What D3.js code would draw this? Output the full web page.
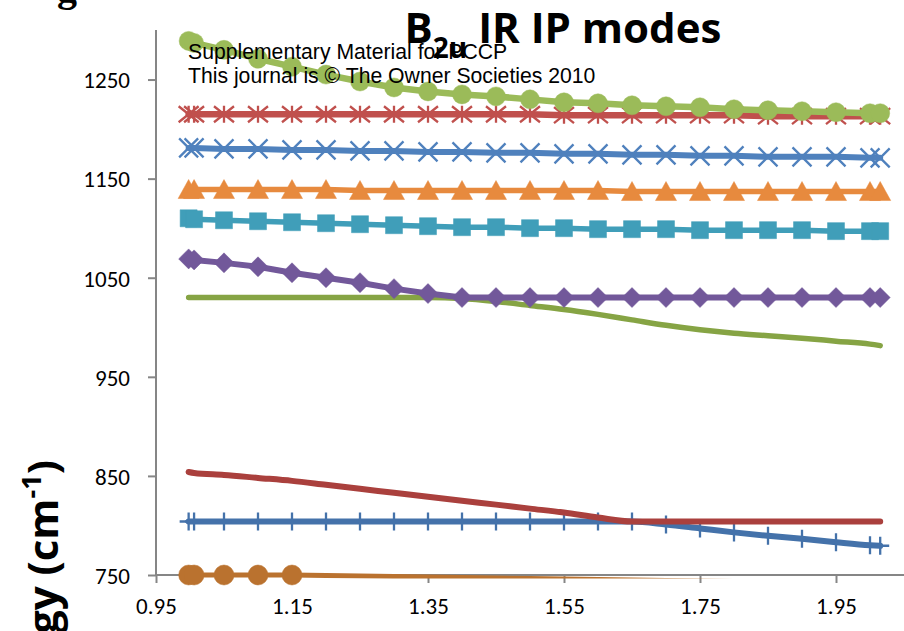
<!DOCTYPE html>
<html><head><meta charset="utf-8">
<script src="https://cdn.jsdelivr.net/npm/d3@7/dist/d3.min.js"></script>
<style>body{margin:0;background:#fff}svg{display:block}</style>
</head><body><svg id="c" width="904" height="631"></svg>
<script>
// ---- data ----
const xValues = [0.998, 1.006, 1.05, 1.10, 1.15, 1.20, 1.25, 1.30, 1.35, 1.40, 1.45, 1.50, 1.55, 1.60, 1.65, 1.70, 1.75, 1.80, 1.85, 1.90, 1.95, 2.00, 2.015];
const greenCircleValues = [1289, 1287, 1280, 1271, 1263, 1255, 1248, 1242, 1238, 1235, 1233, 1230, 1227, 1226, 1224, 1223, 1222, 1220, 1219, 1218, 1217, 1216, 1216];
const redStarValues = [1215, 1215, 1215, 1215, 1215, 1215, 1215, 1215, 1215, 1215, 1215, 1215, 1214, 1214, 1214, 1214, 1214, 1214, 1213, 1213, 1213, 1213, 1213];
const blueXValues = [1181, 1181, 1180, 1180, 1179, 1179, 1178, 1178, 1177, 1177, 1176, 1176, 1175, 1175, 1174, 1174, 1173, 1173, 1172, 1172, 1172, 1171, 1171];
const orangeTriangleValues = [1139, 1139, 1139, 1139, 1139, 1139, 1138, 1138, 1138, 1138, 1138, 1138, 1138, 1138, 1137, 1137, 1137, 1137, 1137, 1137, 1137, 1137, 1137];
const tealSquareValues = [1110, 1109, 1108, 1107, 1106, 1105, 1104, 1103, 1102, 1101, 1101, 1100, 1100, 1099, 1099, 1099, 1098, 1098, 1098, 1098, 1097, 1097, 1097];
const purpleDiamondValues = [1069, 1068, 1065, 1061, 1055, 1050, 1045, 1039, 1034, 1030, 1030, 1030, 1030, 1030, 1030, 1030, 1030, 1030, 1030, 1030, 1030, 1030, 1030];
const greenLineValues = [1030, 1030, 1030, 1030, 1030, 1030, 1030, 1030, 1030, 1029, 1026, 1022, 1018, 1013, 1007.5, 1002, 997.5, 994, 991.5, 989, 986, 983, 981.5];
const redLineValues = [854, 853, 851, 848, 845, 841, 837, 833, 829, 825, 821, 817, 813, 808, 804, 804, 804, 804, 804, 804, 804, 804, 804];
const bluePlusValues = [804, 804, 804, 804, 804, 804, 804, 804, 804, 804, 804, 804, 804, 804, 804, 801, 797, 793, 789.5, 786.5, 783, 780, 779.5];
const orangeCircleValues = [750, 750, 750, 750, 750, 749.5, 749, 748.5, 748, 747.5, 747, 746.5, 746, 745.5, 745, 744.5, 744, 743.5, 743, 742.5, 742, 741.5, 741.3];

const xTicks = [0.95, 1.15, 1.35, 1.55, 1.75, 1.95];
const yTicks = [750, 850, 950, 1050, 1150, 1250];
const titleMain = "B", titleSub = "2u", titleRest = " IR IP modes";
const yTitleMain = "Energy (cm", yTitleSup = "-1", yTitleEnd = ")";
const note1 = "Supplementary Material for PCCP";
const note2 = "This journal is \u00A9 The Owner Societies 2010";
const cornerText = "g";

// ---- setup ----
const svg = d3.select("#c");
const x = d3.scaleLinear().domain([0.95, 2.05]).range([156, 904]);
const y = d3.scaleLinear().domain([750, 1300]).range([575, 30]);
const axisColor = "#868686";
const tickFont = "Carlito, Calibri, Lato, 'Open Sans', sans-serif";
const titleFont = "'Open Sans', 'Noto Sans', sans-serif";

// corner fragment of text cut by the crop
svg.append("text").attr("x", 57).attr("y", 1)
  .attr("font-family", "'Liberation Serif', serif").attr("font-weight", "bold")
  .attr("font-size", 40).attr("fill", "#000").text(cornerText);

// axes
const gx = svg.append("g").attr("transform", `translate(0,${y(750)})`)
  .call(d3.axisBottom(x).tickValues(xTicks).tickSize(8).tickPadding(15).tickFormat(d3.format(".2f")));
const gy = svg.append("g").attr("transform", `translate(${x(0.95)},0)`)
  .call(d3.axisLeft(y).tickValues(yTicks).tickSize(8).tickPadding(18).tickFormat(d3.format("d")));
[gx, gy].forEach(g => {
  g.select(".domain").attr("stroke", axisColor).attr("stroke-width", 2);
  g.selectAll(".tick line").attr("stroke", axisColor).attr("stroke-width", 2);
  g.selectAll(".tick text").attr("font-family", tickFont).attr("font-size", 23).attr("fill", "#000");
});
gy.select(".domain").attr("d", `M0,${y(1300)}V${y(750)}`);
gx.select(".domain").attr("d", `M${x(0.95)},0H904`);
gy.selectAll(".tick text").attr("dy", "0.36em");

// clip for lines (values below the axis minimum get cut)
svg.append("clipPath").attr("id", "plotclip").append("rect")
  .attr("x", x(0.95)).attr("y", 0).attr("width", 904 - x(0.95)).attr("height", y(750) + 3.5);

function markerPath(type, s) {
  switch (type) {
    case "circle": return d3.symbol(d3.symbolCircle, Math.PI * s * s)();
    case "square": return `M${-s},${-s}H${s}V${s}H${-s}Z`;
    case "triangle": return `M0,${-s}L${s * 1.05},${s * 0.9}L${-s * 1.05},${s * 0.9}Z`;
    case "diamond": return `M0,${-s}L${s},0L0,${s}L${-s},0Z`;
    case "star": return `M${-s},${-s * 0.8}L${s},${s * 0.8}M${-s},${s * 0.8}L${s},${-s * 0.8}M0,${-s * 0.85}V${s * 0.85}`;
    case "x": return `M${-s},${-s}L${s},${s}M${-s},${s}L${s},${-s}`;
    case "plus": return `M0,${-s}V${s}M${-s},0H${s}`;
  }
  return null;
}

const seriesList = [
  { values: orangeCircleValues, color: "#BA722F", width: 5, marker: "circle", size: 10, smooth: false },
  { values: bluePlusValues, color: "#4472AA", width: 6, marker: "plus", size: 9, smooth: true },
  { values: redLineValues, color: "#AA403D", width: 6, marker: null, smooth: true },
  { values: greenLineValues, color: "#86A444", width: 5.5, marker: null, smooth: true },
  { values: purpleDiamondValues, color: "#72589A", width: 6, marker: "diamond", size: 10, smooth: false },
  { values: tealSquareValues, color: "#409EB9", width: 5.5, marker: "square", size: 8.5, smooth: false },
  { values: orangeTriangleValues, color: "#E78A3E", width: 5.5, marker: "triangle", size: 10, smooth: false },
  { values: blueXValues, color: "#4F81BD", width: 6, marker: "x", size: 9.5, smooth: false },
  { values: redStarValues, color: "#C0504D", width: 6.5, marker: "star", size: 10, smooth: false },
  { values: greenCircleValues, color: "#9BBB59", width: 6.5, marker: "circle", size: 9.5, smooth: false }
];

seriesList.forEach(s => {
  const pts = xValues.map((xv, i) => [xv, s.values[i]]);
  const line = d3.line().x(d => x(d[0])).y(d => y(d[1]))
    .curve(s.smooth ? d3.curveMonotoneX : d3.curveLinear);
  svg.append("path").datum(pts).attr("d", line)
    .attr("fill", "none").attr("stroke", s.color).attr("stroke-width", s.width)
    .attr("stroke-linejoin", "round").attr("stroke-linecap", "round")
    .attr("clip-path", "url(#plotclip)");
  if (s.marker) {
    const filled = ["circle", "square", "triangle", "diamond"].includes(s.marker);
    svg.append("g").selectAll("path").data(pts.filter(p => p[1] >= 750)).join("path")
      .attr("transform", d => `translate(${x(d[0])},${y(d[1])})`)
      .attr("d", markerPath(s.marker, s.size))
      .attr("fill", filled ? s.color : "none")
      .attr("stroke", s.color)
      .attr("stroke-width", filled ? 0.5 : 2.3);
  }
});

// notes overlay
svg.append("text").attr("x", 188).attr("y", 59)
  .attr("font-family", "'Liberation Sans', Arial, sans-serif").attr("font-size", 21.2).attr("fill", "#000").text(note1);
svg.append("text").attr("x", 188).attr("y", 83)
  .attr("font-family", "'Liberation Sans', Arial, sans-serif").attr("font-size", 21.2).attr("fill", "#000").text(note2);

// title
const t = svg.append("text").attr("x", 563).attr("y", 43).attr("text-anchor", "middle")
  .attr("font-family", titleFont).attr("font-weight", "bold").attr("font-size", 42).attr("fill", "#000");
t.append("tspan").text(titleMain);
t.append("tspan").attr("dy", 15).attr("font-size", 28).text(titleSub);
t.append("tspan").attr("dy", -15).text(titleRest);

// y axis title (rotated, partly outside the crop)
const yt = svg.append("text").attr("transform", "translate(58,460) rotate(-90)").attr("text-anchor", "end")
  .attr("font-family", titleFont).attr("font-weight", "bold").attr("font-size", 42).attr("fill", "#000");
yt.append("tspan").text(yTitleMain);
yt.append("tspan").attr("dy", -17).attr("font-size", 27).text(yTitleSup);
yt.append("tspan").attr("dy", 17).text(yTitleEnd);
</script></body></html>
